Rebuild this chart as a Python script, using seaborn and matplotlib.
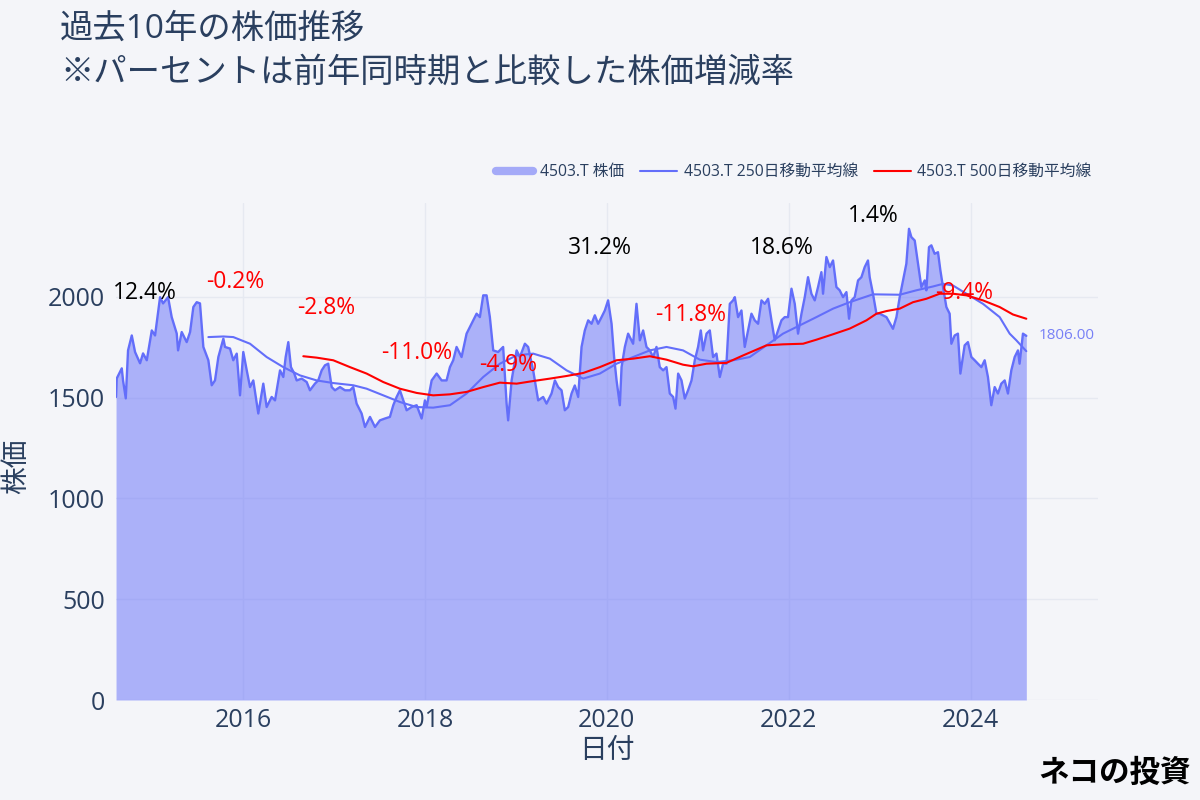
import matplotlib
import matplotlib.pyplot as plt
import seaborn as sns
from matplotlib.lines import Line2D

matplotlib.use('Agg')

# price (decimal year, yen)
price_year = [
    2014.604, 2014.612, 2014.667, 2014.681, 2014.711, 2014.736, 2014.777, 2014.813, 2014.868, 2014.901,
    2014.942, 2014.997, 2015.033, 2015.088, 2015.121, 2015.176, 2015.216, 2015.271, 2015.286, 2015.326,
    2015.381, 2015.418, 2015.454, 2015.491, 2015.527, 2015.564, 2015.619, 2015.656, 2015.692, 2015.729,
    2015.784, 2015.802, 2015.857, 2015.893, 2015.931, 2015.967, 2016.003, 2016.041, 2016.077, 2016.113,
    2016.168, 2016.223, 2016.260, 2016.315, 2016.352, 2016.407, 2016.443, 2016.469, 2016.498, 2016.527,
    2016.564, 2016.590, 2016.645, 2016.700, 2016.736, 2016.791, 2016.827, 2016.865, 2016.901, 2016.937,
    2016.975, 2017.011, 2017.066, 2017.121, 2017.176, 2017.212, 2017.249, 2017.304, 2017.341, 2017.396,
    2017.451, 2017.505, 2017.560, 2017.615, 2017.652, 2017.689, 2017.725, 2017.762, 2017.799, 2017.854,
    2017.909, 2017.964, 2018.000, 2018.019, 2018.074, 2018.129, 2018.184, 2018.238, 2018.275, 2018.311,
    2018.348, 2018.403, 2018.458, 2018.513, 2018.568, 2018.604, 2018.641, 2018.678, 2018.714, 2018.751,
    2018.805, 2018.860, 2018.898, 2018.915, 2018.953, 2019.008, 2019.044, 2019.099, 2019.135, 2019.190,
    2019.245, 2019.300, 2019.337, 2019.392, 2019.429, 2019.465, 2019.502, 2019.538, 2019.575, 2019.612,
    2019.648, 2019.685, 2019.722, 2019.758, 2019.795, 2019.832, 2019.868, 2019.904, 2019.942, 2019.978,
    2020.014, 2020.052, 2020.080, 2020.107, 2020.143, 2020.162, 2020.198, 2020.234, 2020.289, 2020.326,
    2020.363, 2020.399, 2020.436, 2020.473, 2020.509, 2020.546, 2020.582, 2020.619, 2020.656, 2020.692,
    2020.729, 2020.755, 2020.784, 2020.821, 2020.857, 2020.893, 2020.931, 2020.967, 2021.003, 2021.033,
    2021.058, 2021.096, 2021.132, 2021.168, 2021.205, 2021.242, 2021.278, 2021.315, 2021.352, 2021.388,
    2021.407, 2021.443, 2021.480, 2021.516, 2021.553, 2021.590, 2021.626, 2021.663, 2021.700, 2021.736,
    2021.773, 2021.810, 2021.846, 2021.882, 2021.920, 2021.956, 2021.992, 2022.030, 2022.066, 2022.102,
    2022.140, 2022.176, 2022.212, 2022.249, 2022.286, 2022.322, 2022.359, 2022.377, 2022.414, 2022.451,
    2022.487, 2022.524, 2022.560, 2022.597, 2022.634, 2022.663, 2022.689, 2022.725, 2022.762, 2022.799,
    2022.835, 2022.871, 2022.890, 2022.926, 2022.964, 2023.000, 2023.074, 2023.146, 2023.184, 2023.220,
    2023.256, 2023.293, 2023.322, 2023.348, 2023.385, 2023.421, 2023.458, 2023.495, 2023.513, 2023.542,
    2023.568, 2023.604, 2023.641, 2023.667, 2023.696, 2023.733, 2023.769, 2023.788, 2023.824, 2023.860,
    2023.887, 2023.934, 2023.970, 2024.008, 2024.044, 2024.080, 2024.118, 2024.154, 2024.190, 2024.227,
    2024.264, 2024.300, 2024.337, 2024.374, 2024.410, 2024.447, 2024.484, 2024.520, 2024.538, 2024.575,
    2024.612,
]
price_val = [
    1503, 1595, 1645, 1585, 1496, 1734, 1808, 1726, 1670, 1719,
    1685, 1833, 1808, 1998, 1967, 1998, 1899, 1818, 1734, 1825,
    1775, 1825, 1949, 1973, 1967, 1751, 1685, 1561, 1585, 1701,
    1792, 1751, 1743, 1685, 1718, 1511, 1726, 1635, 1552, 1585,
    1421, 1569, 1453, 1503, 1486, 1635, 1602, 1701, 1775, 1651,
    1619, 1585, 1594, 1577, 1536, 1569, 1585, 1635, 1660, 1668,
    1552, 1536, 1552, 1536, 1536, 1552, 1470, 1421, 1354, 1404,
    1354, 1387, 1396, 1404, 1462, 1503, 1536, 1486, 1437, 1453,
    1462, 1396, 1486, 1453, 1585, 1619, 1585, 1585, 1651, 1685,
    1751, 1701, 1817, 1866, 1916, 1899, 2007, 2007, 1899, 1734,
    1726, 1751, 1470, 1387, 1585, 1734, 1701, 1767, 1751, 1635,
    1486, 1503, 1470, 1520, 1585, 1552, 1536, 1437, 1453, 1520,
    1560, 1503, 1751, 1833, 1883, 1866, 1908, 1866, 1899, 1932,
    1982, 1866, 1701, 1585, 1462, 1651, 1751, 1817, 1767, 1965,
    1784, 1833, 1751, 1734, 1701, 1751, 1651, 1635, 1651, 1520,
    1503, 1445, 1619, 1585, 1495, 1536, 1585, 1685, 1751, 1833,
    1734, 1817, 1833, 1701, 1718, 1602, 1668, 1668, 1965, 1982,
    1998, 1899, 1932, 1751, 1833, 1916, 1883, 1866, 1982, 1965,
    1990, 1883, 1784, 1833, 1883, 1899, 1899, 2040, 1965, 1817,
    1916, 1998, 2097, 2015, 1982, 2048, 2122, 2015, 2197, 2147,
    2180, 2048, 2032, 1998, 2023, 1891, 1982, 1998, 2081, 2097,
    2147, 2180, 2097, 2015, 1916, 1916, 1899, 1841, 1899, 1998,
    2081, 2164, 2337, 2296, 2279, 2164, 2048, 2081, 2032, 2246,
    2255, 2213, 2221, 2131, 2048, 1949, 1916, 1767, 1808, 1817,
    1619, 1759, 1775, 1701, 1685, 1668, 1651, 1685, 1602, 1462,
    1552, 1520, 1569, 1585, 1520, 1635, 1701, 1734, 1668, 1817,
    1806,
]

ma250_year = [
    2015.619, 2015.784, 2015.893, 2016.077, 2016.260, 2016.443, 2016.626, 2016.810, 2016.992, 2017.212,
    2017.359, 2017.542, 2017.725, 2017.909, 2018.091, 2018.275, 2018.458, 2018.641, 2018.824, 2019.008,
    2019.190, 2019.374, 2019.557, 2019.740, 2019.923, 2020.107, 2020.289, 2020.473, 2020.656, 2020.838,
    2021.022, 2021.205, 2021.388, 2021.571, 2021.755, 2021.937, 2022.121, 2022.304, 2022.487, 2022.670,
    2022.926, 2023.220, 2023.403, 2023.586, 2023.696, 2023.805, 2023.953, 2024.135, 2024.319, 2024.429,
    2024.502, 2024.612,
]
ma250_val = [
    1800, 1803, 1800, 1767, 1701, 1651, 1610, 1585, 1572, 1561,
    1544, 1511, 1478, 1453, 1450, 1462, 1520, 1602, 1668, 1709,
    1718, 1693, 1635, 1594, 1619, 1668, 1701, 1734, 1751, 1734,
    1688, 1676, 1685, 1701, 1759, 1817, 1858, 1899, 1941, 1973,
    2012, 2010, 2032, 2051, 2064, 2056, 2015, 1965, 1899, 1817,
    1784, 1730,
]

ma500_year = [
    2016.663, 2016.810, 2016.992, 2017.176, 2017.359, 2017.542, 2017.725, 2017.909, 2018.091, 2018.275,
    2018.458, 2018.641, 2018.824, 2019.008, 2019.190, 2019.374, 2019.557, 2019.740, 2019.923, 2020.107,
    2020.289, 2020.473, 2020.656, 2020.838, 2020.948, 2021.096, 2021.315, 2021.498, 2021.755, 2021.937,
    2022.157, 2022.304, 2022.487, 2022.670, 2022.854, 2022.964, 2023.074, 2023.220, 2023.366, 2023.513,
    2023.659, 2023.805, 2023.953, 2024.135, 2024.319, 2024.465, 2024.612,
]
ma500_val = [
    1705, 1698, 1685, 1651, 1619, 1577, 1544, 1523, 1511, 1516,
    1528, 1552, 1574, 1569, 1582, 1594, 1607, 1622, 1651, 1685,
    1693, 1705, 1688, 1663, 1655, 1668, 1672, 1709, 1759, 1764,
    1767, 1787, 1814, 1842, 1883, 1916, 1929, 1941, 1973, 1990,
    2015, 2015, 2007, 1982, 1949, 1912, 1891,
]

# year-on-year change labels
ann_year = [2014.92, 2015.92, 2016.91, 2017.91, 2018.92, 2019.92, 2020.92, 2021.92, 2022.93, 2023.93]
ann_y = [2017, 2071, 1942, 1719, 1660, 2240, 1908, 2240, 2403, 2017]
ann_pct = [12.4, -0.2, -2.8, -11.0, -4.9, 31.2, -11.8, 18.6, 1.4, -9.4]

year_ticks = [2016, 2018, 2020, 2022, 2024]
price_ticks = [0, 500, 1000, 1500, 2000]

BG = '#f4f5f9'
BLUE = '#636efa'
TXT = '#2a3f5f'

sns.set_style('whitegrid', {'axes.facecolor': BG, 'figure.facecolor': BG,
                            'grid.color': '#e6e9f1', 'axes.edgecolor': BG})
plt.rcParams['font.family'] = ['Open Sans', 'Noto Sans CJK JP', 'DejaVu Sans']

fig = plt.figure(figsize=(12, 8), dpi=100)
ax = fig.add_axes([0.0967, 0.125, 0.8183, 0.62125])

# price: line plus fill down to zero
ax.fill_between(price_year, price_val, 0, color=BLUE, alpha=0.5, linewidth=0, zorder=2)
sns.lineplot(x=price_year, y=price_val, ax=ax, color=BLUE, linewidth=1.7,
             estimator=None, sort=False, zorder=3)
sns.lineplot(x=ma250_year, y=ma250_val, ax=ax, color=BLUE, linewidth=1.5,
             estimator=None, sort=False, zorder=4)
sns.lineplot(x=ma500_year, y=ma500_val, ax=ax, color='red', linewidth=1.5,
             estimator=None, sort=False, zorder=5)

for x, y, p in zip(ann_year, ann_y, ann_pct):
    ax.text(x, y, f"{p:.1f}%", ha='center', va='center', fontsize=16.5,
            color='red' if p < 0 else 'black', zorder=6)

# last value label
ax.annotate(f"{price_val[-1]:.2f}", (price_year[-1], price_val[-1]), xytext=(9, 0),
            textcoords='offset points', ha='left', va='center', fontsize=11, color='#7780f6')

ax.set_xlim(2014.604, 2025.40)
ax.set_ylim(0, 2465)
ax.set_xticks(year_ticks)
ax.set_xticklabels([str(t) for t in year_ticks])
ax.set_yticks(price_ticks)
ax.tick_params(axis='both', length=0, labelsize=18, colors=TXT)
ax.tick_params(axis='x', pad=6)
ax.tick_params(axis='y', pad=8)
ax.grid(True, color='#e6e9f1', linewidth=1)
ax.set_axisbelow(True)
for s in ax.spines.values():
    s.set_visible(False)

ax.set_xlabel('日付', fontsize=20, color=TXT)
ax.xaxis.set_label_coords(0.5, -0.075)
ax.set_ylabel('株価', fontsize=20, color=TXT)
ax.yaxis.set_label_coords(-0.086, 0.47)

handles = [
    Line2D([], [], color='#a4aaf8', linewidth=6),
    Line2D([], [], color=BLUE, linewidth=1.5),
    Line2D([], [], color='red', linewidth=1.5),
]
labels = ['4503.T 株価', '4503.T 250日移動平均線', '4503.T 500日移動平均線']
ax.legend(handles, labels, loc='center right', bbox_to_anchor=(1.0, 1.062), ncol=3,
          frameon=False, fontsize=11.3, labelcolor=TXT, handlelength=2.4,
          columnspacing=1.0, handletextpad=0.4, borderaxespad=0)

fig.text(0.05, 0.964, '過去10年の株価推移', fontsize=24, va='center', color=TXT)
fig.text(0.05, 0.909, '※パーセントは前年同時期と比較した株価増減率', fontsize=24, va='center', color=TXT)

fig.text(0.992, 0.034, 'ネコの投資', fontsize=22, fontweight='bold', ha='right',
         va='center', color='black', family=['Noto Sans CJK JP'])

fig.savefig('out.png', dpi=100, facecolor=BG)
